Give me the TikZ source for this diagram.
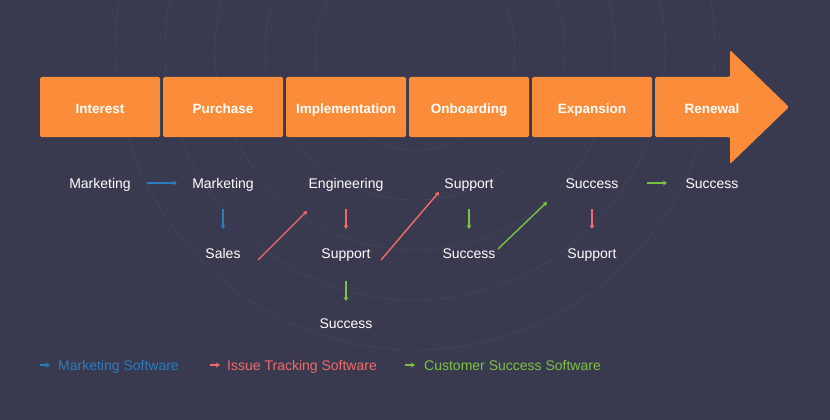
\documentclass[tikz,border=0pt]{standalone}
\usepackage{fontspec}
\setmainfont{Liberation Sans}
\usetikzlibrary{arrows.meta,calc}

\definecolor{bgdark}{HTML}{393A4F}
\definecolor{ringgray}{HTML}{414358}
\definecolor{stageorange}{HTML}{FB8C3A}
\definecolor{mktblue}{HTML}{2B7BBF}
\definecolor{issuered}{HTML}{F26A6A}
\definecolor{succgreen}{HTML}{7DC23F}

\tikzset{
  stage/.style={fill=stageorange, minimum width=120pt, minimum height=60pt,
    inner sep=0pt, rounded corners=1.5pt, text=white, text height=13pt, text depth=0pt,
    font=\fontsize{13.5}{15}\selectfont\bfseries},
  team/.style={text=white, inner sep=1pt, text height=10pt, text depth=3pt,
    font=\fontsize{14}{16}\selectfont},
  flow/.style={line width=1.4pt, -{Stealth[length=4pt,width=5pt]}},
  legendtext/.style={anchor=west, inner sep=0pt, text height=10pt, text depth=3pt,
    font=\fontsize{14}{16}\selectfont}
}

\begin{document}
\begin{tikzpicture}[x=1pt, y=-1pt]
  \fill[bgdark] (0,0) rectangle (830,420);
  % faint rings in the background
  \begin{scope}
    \clip (0,0) rectangle (830,420);
    \foreach \r in {100,150,...,300}
      \draw[ringgray, line width=0.8pt] (415,50) circle (\r);
  \end{scope}

  % stages
  \node[stage] (interest) at (100,107) {Interest};
  \node[stage] (purchase) at (223,107) {Purchase};
  \node[stage] (implement) at (346,107) {Implementation};
  \node[stage] (onboard) at (469,107) {Onboarding};
  \node[stage] (expand) at (592,107) {Expansion};
  \fill[stageorange, rounded corners=1.5pt] (655,77) -- (730,77) -- (730,50)
    -- (789,107) -- (730,164) -- (730,137) -- (655,137) -- cycle;
  \node[text=white, inner sep=0pt, text height=13pt, text depth=0pt,
    font=\fontsize{13.5}{15}\selectfont\bfseries] (renew) at (712,107) {Renewal};

  % teams, first row
  \node[team] (mktA) at (100,185) {Marketing};
  \node[team] (mktB) at (223,185) {Marketing};
  \node[team] (eng) at (346,185) {Engineering};
  \node[team] (supA) at (469,185) {Support};
  \node[team] (sucA) at (592,185) {Success};
  \node[team] (sucB) at (712,185) {Success};
  % second row
  \node[team] (sales) at (223,255) {Sales};
  \node[team] (supB) at (346,255) {Support};
  \node[team] (sucC) at (469,255) {Success};
  \node[team] (supC) at (592,255) {Support};
  % third row
  \node[team] (sucD) at (346,325) {Success};

  % hand-offs
  \draw[flow, mktblue] ($(mktA)+(47,-2)$) -- ($(mktB)+(-46,-2)$);
  \draw[flow, mktblue] ($(mktB)+(0,24)$) -- ($(sales)+(0,-26)$);
  \draw[flow, issuered] ($(sales)+(35,5)$) -- ($(eng)+(-39,26)$);
  \draw[flow, issuered] ($(eng)+(0,24)$) -- ($(supB)+(0,-26)$);
  \draw[flow, succgreen] ($(supB)+(0,26)$) -- ($(sucD)+(0,-24)$);
  \draw[flow, issuered] ($(supB)+(35,5)$) -- ($(supA)+(-30,7)$);
  \draw[flow, succgreen] ($(supA)+(0,24)$) -- ($(sucC)+(0,-26)$);
  \draw[flow, succgreen] ($(sucC)+(29,-6)$) -- ($(sucA)+(-45,17)$);
  \draw[flow, issuered] ($(sucA)+(0,24)$) -- ($(supC)+(0,-26)$);
  \draw[flow, succgreen] ($(sucA)+(55,-2)$) -- ($(sucB)+(-45,-2)$);

  % legend
  \node[legendtext, text=mktblue] (lgmkt) at (58,367) {Marketing Software};
  \node[legendtext, text=issuered] (lgissue) at (227,367) {Issue Tracking Software};
  \node[legendtext, text=succgreen] (lgsucc) at (424,367) {Customer Success Software};
  \draw[flow, mktblue, line width=1.2pt] ($(lgmkt.west)+(-18,-2)$) -- ($(lgmkt.west)+(-8,-2)$);
  \draw[flow, issuered, line width=1.2pt] ($(lgissue.west)+(-17,-2)$) -- ($(lgissue.west)+(-7,-2)$);
  \draw[flow, succgreen, line width=1.2pt] ($(lgsucc.west)+(-19,-2)$) -- ($(lgsucc.west)+(-9,-2)$);
\end{tikzpicture}
\end{document}
